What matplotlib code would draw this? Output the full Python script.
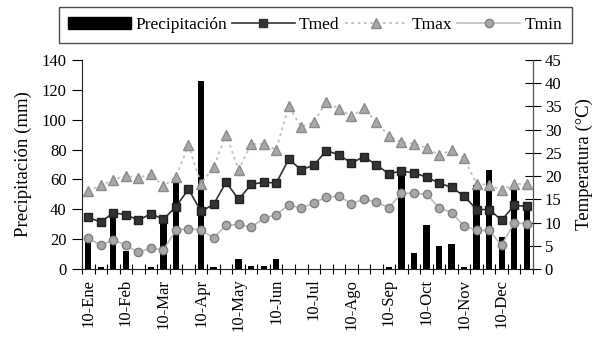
import matplotlib.pyplot as plt
import numpy as np
from matplotlib.patches import Patch
from matplotlib.lines import Line2D

plt.rcParams['font.family'] = ['Liberation Serif', 'DejaVu Serif']

# Décadas (36 periodos de 10 días)
meses = ['Ene', 'Feb', 'Mar', 'Apr', 'May', 'Jun',
         'Jul', 'Ago', 'Sep', 'Oct', 'Nov', 'Dec']
etiquetas = ['10-' + m for m in meses]

# Precipitación (mm) por década
precip = [19, 1.5, 37, 12, 0, 1.3, 31, 58, 0, 126, 1.1, 0,
          6.4, 2.2, 2.2, 6.4, 0, 0, 0, 0, 0, 0, 0, 0,
          1.3, 66, 11, 29.5, 15.5, 16.5, 1.1, 56, 66, 21.5, 56, 43]

# Temperaturas (°C)
tmed = [11.1, 10.1, 12.1, 11.7, 10.5, 11.9, 10.7, 13.4, 17.2, 12.4, 13.9, 18.7,
        15.0, 18.2, 18.7, 18.5, 23.6, 21.4, 22.3, 25.5, 24.6, 22.8, 24.2, 22.4,
        20.5, 21.1, 20.7, 19.8, 18.5, 17.6, 15.7, 12.8, 12.8, 10.5, 13.7, 13.5]
tmax = [16.8, 18.0, 19.2, 20.1, 19.6, 20.5, 17.8, 19.9, 26.6, 18.4, 21.9, 28.9,
        21.4, 26.9, 26.9, 25.7, 35.0, 30.6, 31.6, 36.0, 34.5, 32.9, 34.6, 31.6,
        28.6, 27.3, 27.0, 26.1, 24.5, 25.6, 23.8, 18.3, 18.1, 17.0, 18.3, 18.3]
tmin = [6.6, 5.1, 6.3, 5.1, 3.6, 4.5, 4.1, 8.4, 8.7, 8.4, 6.7, 9.4,
        9.6, 9.0, 10.9, 11.7, 13.8, 13.1, 14.2, 15.5, 15.7, 14.1, 15.0, 14.4,
        13.2, 16.3, 16.3, 16.1, 13.2, 12.1, 9.3, 8.3, 8.3, 5.1, 10.0, 9.7]

x = np.arange(len(precip))

fig = plt.figure(figsize=(5.97, 3.38), dpi=100)
ax = fig.add_axes([82/597, 1-269/338, (533-82)/597, (269-60)/338])
ax2 = ax.twinx()

# Barras de precipitación
ax.bar(x, precip, width=0.5, color='black', zorder=2)
ax.set_ylim(0, 140)
ax.set_yticks(np.arange(0, 141, 20))
ax.set_xlim(-0.5, len(x) - 0.5)
ax.set_ylabel('Precipitación (mm)', fontsize=13.5, labelpad=7)

# Líneas de temperatura
ax2.plot(x, tmax, color='#C0C0C0', linestyle=(0, (1.5, 2)), linewidth=1.3,
         marker='^', markersize=7, markerfacecolor='#A8A8A8', markeredgecolor='#8C8C8C')
ax2.plot(x, tmin, color='#BDBDBD', linewidth=1.2,
         marker='o', markersize=6, markerfacecolor='#A8A8A8', markeredgecolor='#808080')
ax2.plot(x, tmed, color='#333333', linewidth=1.2,
         marker='s', markersize=6, markerfacecolor='#333333', markeredgecolor='#222222')
ax2.set_ylim(0, 45)
ax2.set_yticks(np.arange(0, 46, 5))
ax2.set_ylabel('Temperatura (°C)', fontsize=13.5, labelpad=10)

# Eje x: marcas en los límites, etiquetas en la primera década de cada mes
ax.set_xticks(np.arange(-0.5, len(x), 1), minor=True)
ax.set_xticks(x[::3])
ax.set_xticklabels(etiquetas, rotation=90, fontsize=12)
ax.tick_params(axis='x', which='major', length=0, pad=7)
ax.tick_params(axis='x', which='minor', direction='inout', length=7, width=0.8)
ax.tick_params(axis='y', direction='out', length=7, width=0.8, labelsize=12, pad=4)
ax2.tick_params(axis='y', direction='inout', length=11, width=0.8, labelsize=12, pad=3)

for a in (ax, ax2):
    a.spines['top'].set_visible(False)
ax.spines['left'].set_color('#222222')
ax.spines['bottom'].set_color('#222222')
ax2.spines['right'].set_color('#555555')
ax2.spines['left'].set_visible(False)
ax2.spines['bottom'].set_visible(False)

# Leyenda
handles = [
    Patch(facecolor='black', edgecolor='black'),
    Line2D([], [], color='#333333', linewidth=1.2, marker='s', markersize=6,
           markerfacecolor='#333333'),
    Line2D([], [], color='#C0C0C0', linestyle=(0, (1.5, 2)), linewidth=1.3, marker='^',
           markersize=7, markerfacecolor='#A8A8A8', markeredgecolor='#8C8C8C'),
    Line2D([], [], color='#BDBDBD', linewidth=1.2, marker='o', markersize=6,
           markerfacecolor='#A8A8A8', markeredgecolor='#808080'),
]
leg = fig.legend(handles, ['Precipitación', 'Tmed', 'Tmax', 'Tmin'],
                 loc='center', ncol=4, fontsize=12.5, frameon=True, fancybox=False,
                 edgecolor='#222222', handlelength=3.6, handletextpad=0.25,
                 columnspacing=0.3, borderpad=0.55,
                 bbox_to_anchor=(0.528, 1 - 25/338))
leg.get_frame().set_linewidth(1.0)

fig.savefig('out.png', dpi=100)
